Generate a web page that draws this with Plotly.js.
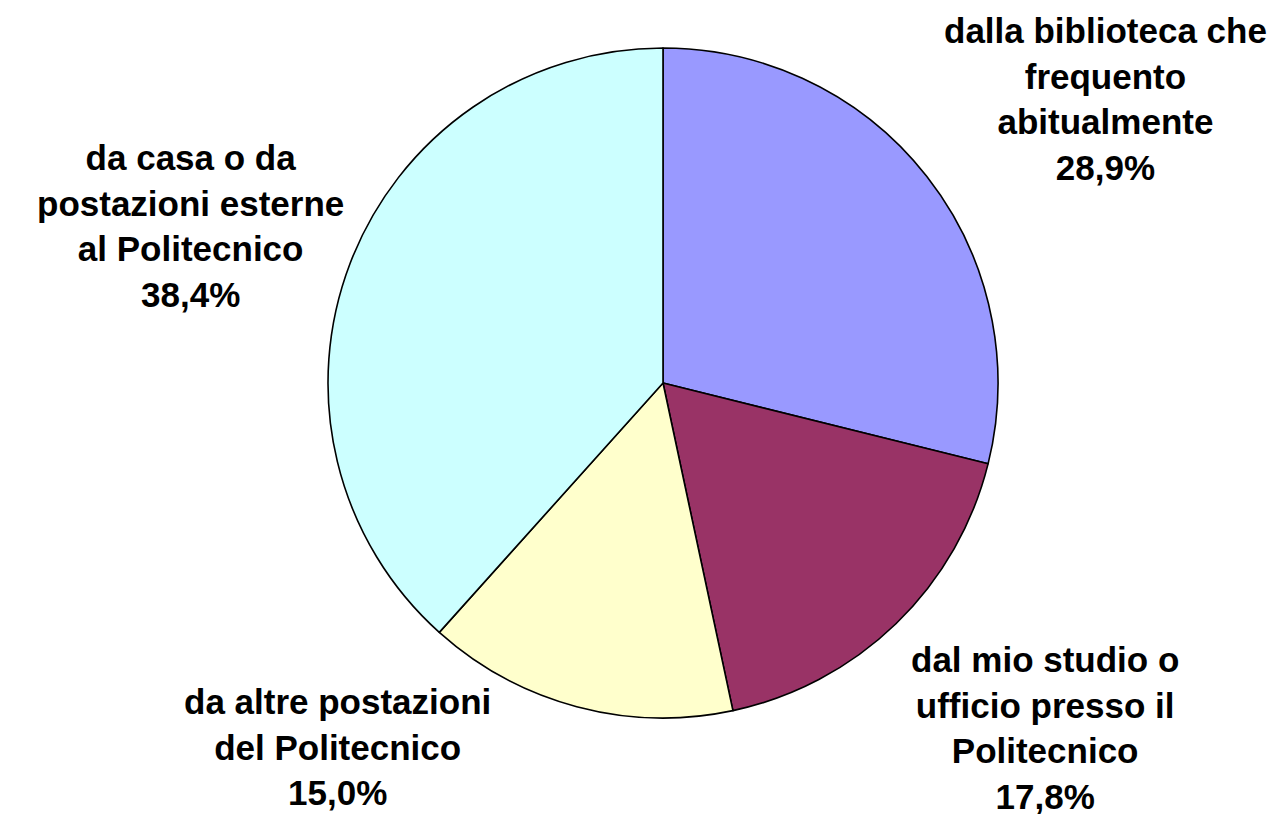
<!DOCTYPE html>
<html>
<head>
<meta charset="utf-8">
<script src="https://cdn.plot.ly/plotly-3.0.1.min.js"></script>
<style>html,body{margin:0;padding:0;background:#fff;}#chart{width:1279px;height:814px;}</style>
</head>
<body>
<div id="chart"></div>
<script>
// Data
const categories = [
  "dalla biblioteca che<br>frequento<br>abitualmente",
  "dal mio studio o<br>ufficio presso il<br>Politecnico",
  "da altre postazioni<br>del Politecnico",
  "da casa o da<br>postazioni esterne<br>al Politecnico"
];
const values = [28.9, 17.8, 15.0, 38.4];
const colors = ["#9999FF", "#993366", "#FFFFCC", "#CCFFFF"];

// Label placement (layout only)
const labelX = [0.864, 0.817, 0.2635, 0.1486];
const labelY = [0.8784, 0.1062, 0.0822, 0.7224];

const fmt = v => v.toFixed(1).replace(".", ",") + "%";

const trace = {
  type: "pie",
  labels: categories,
  values: values,
  sort: false,
  direction: "clockwise",
  rotation: 0,
  marker: {colors: colors, line: {color: "#000000", width: 1.6}},
  textinfo: "none",
  hoverinfo: "label+percent",
  showlegend: false,
  domain: {x: [0.25645, 0.78030], y: [0.11794, 0.94103]}
};

const annotations = categories.map((c, i) => ({
  text: "<b>" + c + "<br>" + fmt(values[i]) + "</b>",
  x: labelX[i], y: labelY[i],
  xref: "paper", yref: "paper",
  xanchor: "center", yanchor: "middle",
  align: "center",
  showarrow: false,
  borderpad: 0,
  font: {family: "Liberation Sans, Arial, sans-serif", size: 35, color: "#000000"}
}));

const layout = {
  width: 1279, height: 814,
  margin: {l: 0, r: 0, t: 0, b: 0},
  paper_bgcolor: "#ffffff",
  plot_bgcolor: "#ffffff",
  showlegend: false,
  annotations: annotations
};

Plotly.newPlot("chart", [trace], layout, {displayModeBar: false, staticPlot: true});
</script>
</body>
</html>
